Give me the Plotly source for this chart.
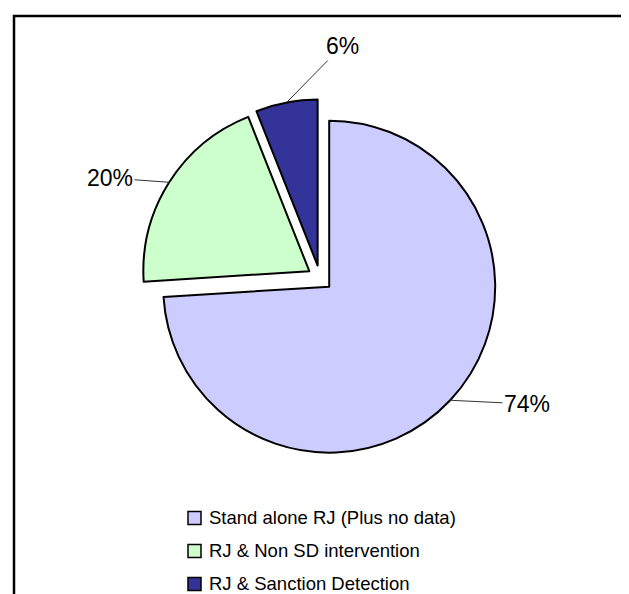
import math
import plotly.graph_objects as go

# ---- data ----
categories = ["Stand alone RJ (Plus no data)", "RJ & Non SD intervention", "RJ & Sanction Detection"]
values = [74, 20, 6]
pct_labels = ["74%", "20%", "6%"]
colors = ["#CCCCFF", "#CCFFCC", "#333399"]

# ---- layout constants (pixels) ----
W, H = 629, 594
CX, CY = 312, 270          # pie centre (screen px)
R = 166                    # pie radius
PULL = 0.076
FONT = "Arial, Liberation Sans, sans-serif"

def px(x):
    return x / W

def py(y):
    return 1 - y / H

box = R * (2 + 2 * PULL)
domain_x = [px(CX - box / 2), px(CX + box / 2)]
domain_y = [py(CY + box / 2), py(CY - box / 2)]

fig = go.Figure()
fig.add_trace(go.Pie(
    labels=categories,
    values=values,
    marker=dict(colors=colors, line=dict(color="black", width=2)),
    sort=False,
    direction="clockwise",
    rotation=0,
    pull=[PULL] * len(values),
    textinfo="none",
    hoverinfo="label+percent",
    showlegend=False,
    domain=dict(x=domain_x, y=domain_y),
))

# ---- percentage labels with leader lines (anchored at slice mid-angle on the rim) ----
label_pos = [(519, 396), (102, 170), (334, 38)]   # text centres (px)
total = sum(values)
cum = 0
annotations = []
for v, lab, (tx, ty) in zip(values, pct_labels, label_pos):
    theta = math.radians(360 * (cum + v / 2) / total)
    cum += v
    sx, sy = math.sin(theta), -math.cos(theta)
    ox, oy = CX + PULL * R * sx, CY + PULL * R * sy
    axp, ayp = ox + R * sx, oy + R * sy
    annotations.append(dict(
        x=px(axp), y=py(ayp), xref="paper", yref="paper",
        text=lab, showarrow=True, arrowhead=0, arrowwidth=1, arrowcolor="#333333",
        ax=tx - axp, ay=ty - ayp, standoff=0,
        font=dict(family=FONT, size=23, color="black"),
        borderpad=1,
    ))

# ---- legend (manual) ----
shapes = []
row_y = [510, 543, 576]
for cat, col, ry in zip(categories, colors, row_y):
    shapes.append(dict(type="rect", xref="paper", yref="paper",
                       x0=px(180), x1=px(193), y0=py(ry + 6.5), y1=py(ry - 6.5),
                       fillcolor=col, line=dict(color="black", width=1.5)))
    annotations.append(dict(x=px(200), y=py(ry - 1), xref="paper", yref="paper",
                            text=cat, showarrow=False, xanchor="left", yanchor="middle",
                            borderpad=0,
                            font=dict(family=FONT, size=18.5, color="black")))

# ---- chart border ----
shapes.append(dict(type="rect", xref="paper", yref="paper",
                   x0=px(6), x1=px(W + 20), y0=py(H + 20), y1=py(8),
                   line=dict(color="black", width=2.5), fillcolor="rgba(0,0,0,0)"))

fig.update_layout(
    width=W, height=H,
    margin=dict(l=0, r=0, t=0, b=0),
    paper_bgcolor="white", plot_bgcolor="white",
    shapes=shapes, annotations=annotations,
    font=dict(family=FONT),
)

fig.write_html("out.html")
